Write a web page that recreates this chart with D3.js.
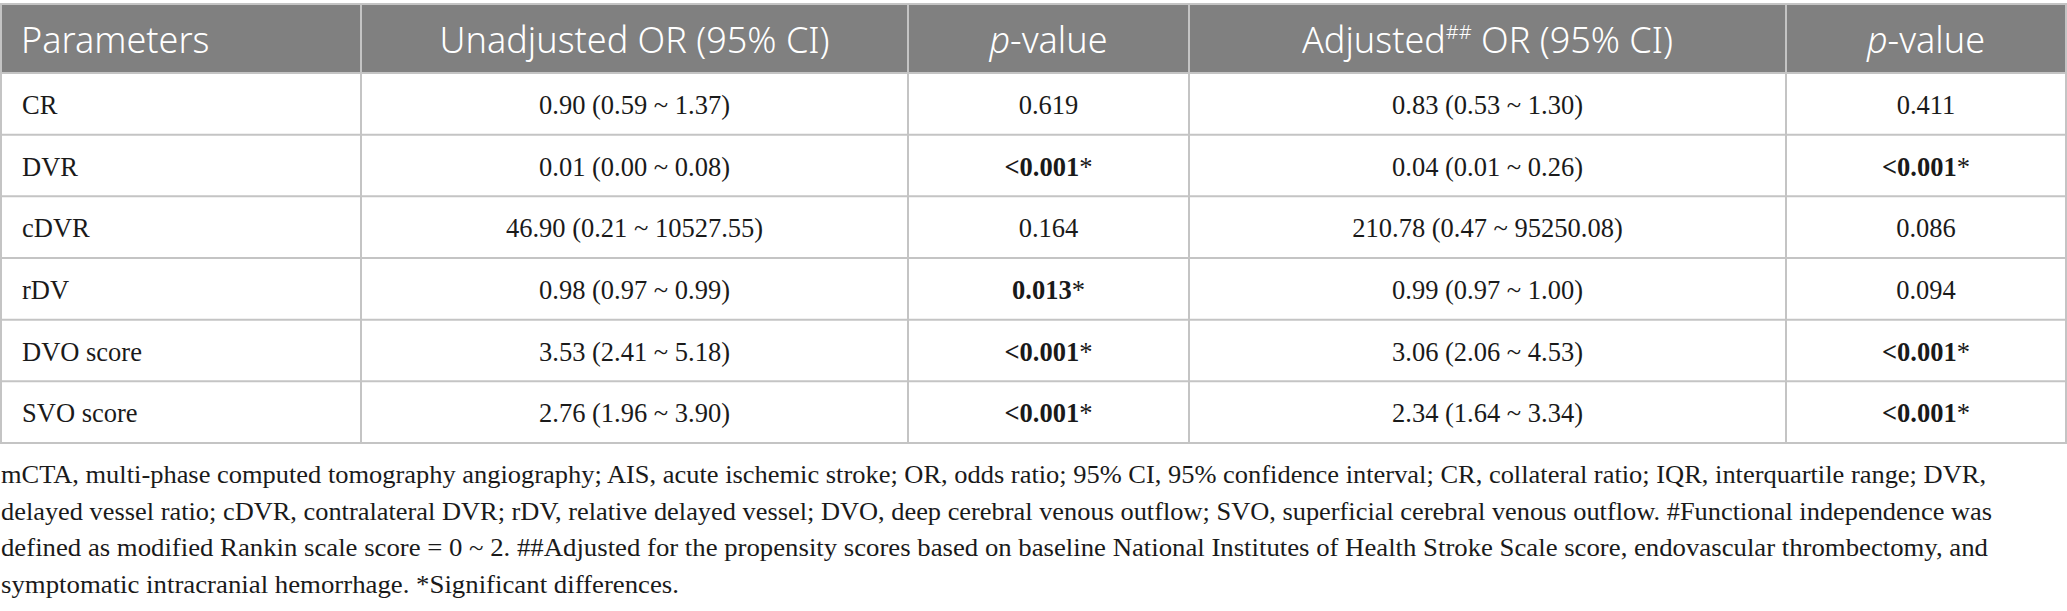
<!DOCTYPE html>
<html>
<head>
<meta charset="utf-8">
<script src="https://cdn.jsdelivr.net/npm/d3@7"></script>
<style>
  body { margin: 0; background: #fff; }
</style>
</head>
<body>
<div id="table"></div>
<script>
// table contents
var parameters = ["CR", "DVR", "cDVR", "rDV", "DVO score", "SVO score"];
var unadjustedOR = ["0.90 (0.59 ~ 1.37)", "0.01 (0.00 ~ 0.08)", "46.90 (0.21 ~ 10527.55)",
  "0.98 (0.97 ~ 0.99)", "3.53 (2.41 ~ 5.18)", "2.76 (1.96 ~ 3.90)"];
var unadjustedP = ["0.619", "<0.001", "0.164", "0.013", "<0.001", "<0.001"];
var unadjustedSig = [false, true, false, true, true, true];
var adjustedOR = ["0.83 (0.53 ~ 1.30)", "0.04 (0.01 ~ 0.26)", "210.78 (0.47 ~ 95250.08)",
  "0.99 (0.97 ~ 1.00)", "3.06 (2.06 ~ 4.53)", "2.34 (1.64 ~ 3.34)"];
var adjustedP = ["0.411", "<0.001", "0.086", "0.094", "<0.001", "<0.001"];
var adjustedSig = [false, true, false, false, true, true];

var footnote = [
  "mCTA, multi-phase computed tomography angiography; AIS, acute ischemic stroke; OR, odds ratio; 95% CI, 95% confidence interval; CR, collateral ratio; IQR, interquartile range; DVR,",
  "delayed vessel ratio; cDVR, contralateral DVR; rDV, relative delayed vessel; DVO, deep cerebral venous outflow; SVO, superficial cerebral venous outflow. #Functional independence was",
  "defined as modified Rankin scale score = 0 ~ 2. ##Adjusted for the propensity scores based on baseline National Institutes of Health Stroke Scale score, endovascular thrombectomy, and",
  "symptomatic intracranial hemorrhage. *Significant differences."
];

var width = 2067, height = 611;
var colEdges = [1, 361, 908, 1189, 1786, 2066];   // column borders
var headTop = 4, headBottom = 73, tableBottom = 443;
var noteEnds = [1986, 1992, 1988, 679];             // where each footnote line stops
var lineColor = "#c4c4c4";
var serif = "'Liberation Serif', 'Times New Roman', serif";
var sans = "'Noto Sans', 'Open Sans', sans-serif";

var svg = d3.select("#table").append("svg")
  .attr("width", width)
  .attr("height", height);

// row scale
var y = d3.scaleBand()
  .domain(parameters)
  .range([headBottom, tableBottom]);

function colCenter(i) { return (colEdges[i] + colEdges[i + 1]) / 2; }

// header band
svg.append("rect")
  .attr("x", colEdges[0]).attr("y", headTop)
  .attr("width", colEdges[5] - colEdges[0]).attr("height", headBottom - headTop)
  .attr("fill", "#808080");

// header labels
var head = svg.append("g")
  .attr("font-family", sans)
  .attr("font-size", "36px")
  .attr("font-weight", 300)
  .attr("fill", "#fff");
var headBase = 53;

head.append("text").attr("x", 21).attr("y", headBase).text("Parameters");
head.append("text").attr("x", colCenter(1)).attr("y", headBase)
  .attr("text-anchor", "middle").text("Unadjusted OR (95% CI)");

[2, 4].forEach(function (c) {
  var t = head.append("text").attr("x", colCenter(c)).attr("y", headBase).attr("text-anchor", "middle");
  t.append("tspan").attr("font-style", "italic").text("p");
  t.append("tspan").text("-value");
});

var adj = head.append("text").attr("x", colCenter(3)).attr("y", headBase).attr("text-anchor", "middle");
adj.append("tspan").text("Adjusted");
adj.append("tspan").attr("font-size", "20px").attr("dy", -14).text("##");
adj.append("tspan").attr("dy", 14).text(" OR (95% CI)");

// body cells
var body = svg.append("g")
  .attr("font-family", serif)
  .attr("font-size", "26.5px")
  .attr("fill", "#1a1a1a");

var rows = body.selectAll("g.row")
  .data(parameters.map(function (p, i) {
    return { name: p, uor: unadjustedOR[i], up: unadjustedP[i], us: unadjustedSig[i],
      aor: adjustedOR[i], ap: adjustedP[i], as: adjustedSig[i] };
  }))
  .enter().append("g")
  .attr("class", "row")
  .attr("transform", function (d) { return "translate(0," + (y(d.name) + 41) + ")"; });

rows.append("text").attr("x", 22).text(function (d) { return d.name; });
rows.append("text").attr("x", colCenter(1)).attr("text-anchor", "middle").text(function (d) { return d.uor; });
rows.append("text").attr("x", colCenter(3)).attr("text-anchor", "middle").text(function (d) { return d.aor; });

function pCell(sel, col, val, sig) {
  sel.append("text").attr("x", colCenter(col)).attr("text-anchor", "middle")
    .each(function (d) {
      var t = d3.select(this);
      t.append("tspan").attr("font-weight", d[sig] ? "bold" : "normal").text(d[val]);
      if (d[sig]) t.append("tspan").text("*");
    });
}
pCell(rows, 2, "up", "us");
pCell(rows, 4, "ap", "as");

// grid lines
var grid = svg.append("g").attr("stroke", lineColor).attr("stroke-width", 2).attr("fill", "none");
grid.selectAll("line.h")
  .data(parameters.slice(1))
  .enter().append("line")
  .attr("x1", colEdges[0]).attr("x2", colEdges[5])
  .attr("y1", function (d) { return y(d); }).attr("y2", function (d) { return y(d); });
grid.selectAll("line.v")
  .data(colEdges.slice(1, 5))
  .enter().append("line")
  .attr("x1", function (d) { return d; }).attr("x2", function (d) { return d; })
  .attr("y1", headTop).attr("y2", tableBottom);
grid.append("line").attr("x1", colEdges[0]).attr("x2", colEdges[5]).attr("y1", headBottom).attr("y2", headBottom);
grid.append("rect")
  .attr("x", colEdges[0]).attr("y", headTop)
  .attr("width", colEdges[5] - colEdges[0]).attr("height", tableBottom - headTop);

// footnote: each line stretched to where the printed line ends
svg.append("g")
  .attr("font-family", serif)
  .attr("font-size", "25.5px")
  .attr("fill", "#1a1a1a")
  .selectAll("text")
  .data(footnote)
  .enter().append("text")
  .attr("x", 1)
  .attr("y", function (d, i) { return 483 + i * 36.5; })
  .attr("textLength", function (d, i) { return noteEnds[i] - 1; })
  .attr("lengthAdjust", "spacingAndGlyphs")
  .text(function (d) { return d; });
</script>
</body>
</html>
